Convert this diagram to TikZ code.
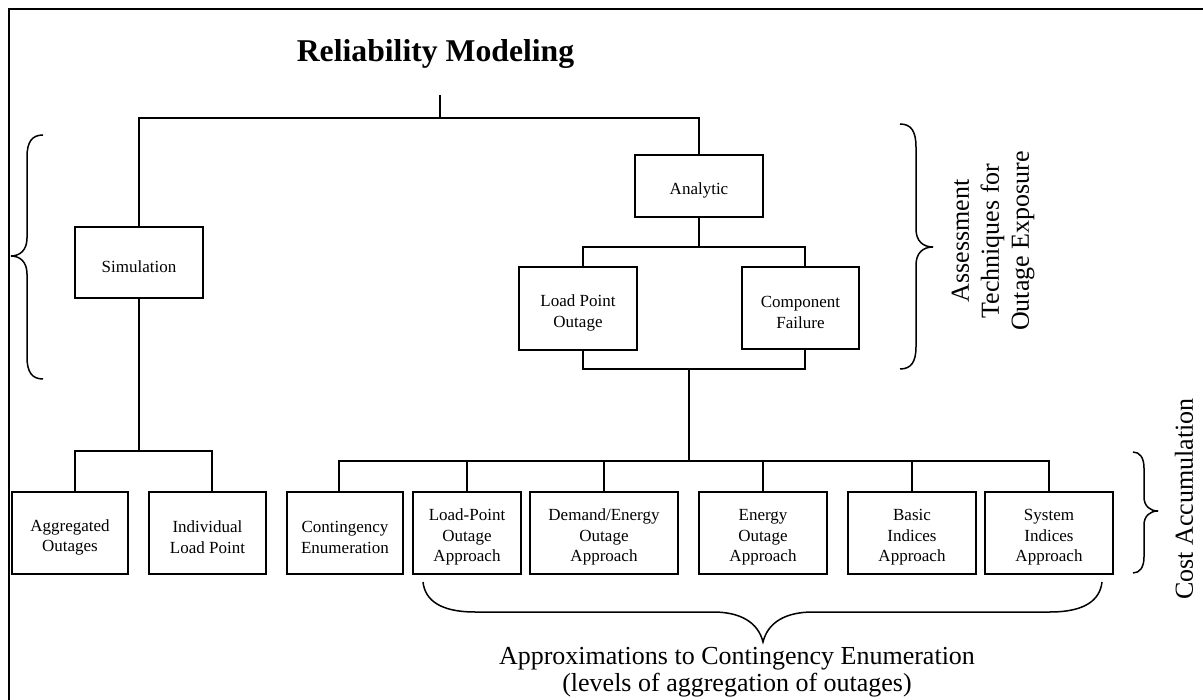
\documentclass[tikz,border=0pt]{standalone}
\usepackage{fontspec}
\setmainfont{Liberation Serif}
\newcommand\boxstrut{\rule{0pt}{20.5pt}}
\begin{document}
\begin{tikzpicture}[x=1pt,y=-1pt,
  box/.style={draw, line width=1.5pt, inner sep=0pt, align=center, font=\fontsize{17}{20.5}\selectfont},
  conn/.style={line width=1.5pt},
  bracestyle/.style={line width=1.5pt},
  note/.style={font=\fontsize{26}{30}\selectfont, align=center, inner sep=0pt}]
\useasboundingbox (0,0) rectangle (1203,700);
% frame
\draw[line width=2.8pt] (9,700) -- (9,9) -- (1203,9);
% title
\node[font=\fontsize{31.7}{38}\selectfont\bfseries, anchor=base, inner sep=0pt] (title) at (435.5,62) {Reliability Modeling};
% boxes
\node[box, minimum width=128, minimum height=71] (sim) at (139,262.5) {\boxstrut Simulation};
\node[box, minimum width=128, minimum height=62] (ana) at (699,186) {\boxstrut Analytic};
\node[box, minimum width=118, minimum height=83] (lpo) at (578,308.5) {\boxstrut Load Point\\Outage};
\node[box, minimum width=117, minimum height=82] (comp) at (800.5,308) {\boxstrut Component\\Failure};
\node[box, minimum width=116, minimum height=82] (agg) at (70,533) {\boxstrut Aggregated\\Outages};
\node[box, minimum width=117, minimum height=82] (ind) at (207.5,533) {\boxstrut Individual\\Load Point};
\node[box, minimum width=116, minimum height=82] (cont) at (345,533) {\boxstrut Contingency\\Enumeration};
\node[box, minimum width=108, minimum height=82] (lpa) at (467,533) {\boxstrut Load-Point\\Outage\\Approach};
\node[box, minimum width=148, minimum height=82] (dea) at (604,533) {\boxstrut Demand/Energy\\Outage\\Approach};
\node[box, minimum width=128, minimum height=82] (ena) at (763,533) {\boxstrut Energy\\Outage\\Approach};
\node[box, minimum width=128, minimum height=82] (bia) at (912,533) {\boxstrut Basic\\Indices\\Approach};
\node[box, minimum width=128, minimum height=82] (sia) at (1049,533) {\boxstrut System\\Indices\\Approach};
% junctions
\coordinate (top) at (440,95);
\coordinate (j0) at (440,118);
\coordinate (j1) at (139,451);
\coordinate (j2) at (699,247);
\coordinate (j3) at (689,369);
\coordinate (j4) at (689,461);
% connectors
\draw[conn] (top) -- (j0);
\draw[conn] (sim.north) |- (j0) -| (ana.north);
\draw[conn] (sim.south) -- (j1);
\draw[conn] ([xshift=5pt]agg.north) |- (j1) -| ([xshift=4.5pt]ind.north);
\draw[conn] (ana.south) -- (j2);
\draw[conn] ([xshift=5pt]lpo.north) |- (j2) -| ([xshift=4.5pt]comp.north);
\draw[conn] ([xshift=5pt]lpo.south) |- (j3) -| ([xshift=4.5pt]comp.south);
\draw[line width=2.2pt] ([xshift=-22pt]j3) -- ([xshift=21pt]j3);
\draw[conn] (j3) -- (j4);
\draw[conn] ([xshift=-6pt]cont.north) |- (j4) -| (sia.north);
\draw[conn] (lpa.north) -- (lpa.north |- j4);
\draw[conn] (dea.north) -- (dea.north |- j4);
\draw[conn] (ena.north) -- (ena.north |- j4);
\draw[conn] (bia.north) -- (bia.north |- j4);
% braces
\draw[bracestyle] (43,135) .. controls (32,135) and (27,142) .. (27,157) -- (27,238)
  .. controls (27,250) and (20,256) .. (11,256) .. controls (20,256) and (27,262) .. (27,274)
  -- (27,357) .. controls (27,372) and (32,379) .. (43,379);
\draw[bracestyle] (900,124) .. controls (911,124) and (916,131) .. (916,147) -- (916,229)
  .. controls (916,241) and (923,247) .. (933,247) .. controls (923,247) and (916,253) .. (916,265)
  -- (916,347) .. controls (916,362) and (911,369) .. (900,369);
\draw[bracestyle] (1133,452) .. controls (1140,452) and (1144,458) .. (1144,468) -- (1144,497)
  .. controls (1144,506) and (1150,511) .. (1158,511) .. controls (1150,511) and (1144,516) .. (1144,525)
  -- (1144,557) .. controls (1144,567) and (1140,573) .. (1133,573);
\draw[bracestyle] (423,582) .. controls (425,600) and (440,612) .. (475,612) -- (713,612)
  .. controls (740,612) and (758,622) .. (763,642) .. controls (768,622) and (786,612) .. (813,612)
  -- (1050,612) .. controls (1085,612) and (1100,600) .. (1102,582);
% side and bottom notes
\node[note, rotate=90] (assess) at (993,241) {Assessment\\Techniques for\\Outage Exposure};
\node[note, rotate=90] (cost) at (1184,499) {Cost Accumulation};
\node[note, font=\fontsize{26}{27}\selectfont] (approx) at (737,672) {Approximations to Contingency Enumeration\\(levels of aggregation of outages)};
\end{tikzpicture}
\end{document}
